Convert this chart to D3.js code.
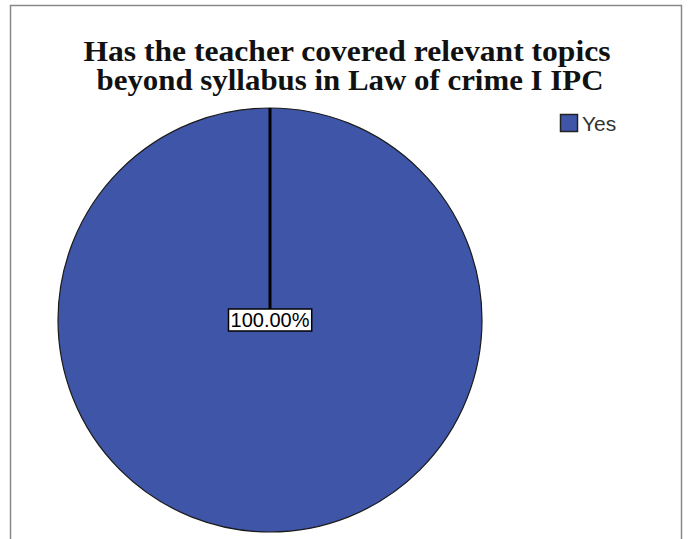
<!DOCTYPE html>
<html>
<head>
<meta charset="utf-8">
<script src="https://cdn.jsdelivr.net/npm/d3@7"></script>
<style>
  body { margin: 0; background: #fff; }
  svg { display: block; }
</style>
</head>
<body>
<div id="chart"></div>
<script>
// data
var categories = ["Yes"];
var values = [100];
var titleLines = ["Has the teacher covered relevant topics", "beyond syllabus in  Law of crime I IPC"];

var width = 690, height = 539;
var fillColor = "#3F56A8";

var svg = d3.select("#chart").append("svg")
  .attr("width", width)
  .attr("height", height);

// outer frame (bottom runs off the picture)
svg.append("path")
  .attr("d", "M10.5,545 V5.5 H681.5 V545")
  .attr("fill", "none")
  .attr("stroke", "#888")
  .attr("stroke-width", 1.5);

// title, stretched to the width of the original lines
var titlePos = [{cx: 347, y: 61, len: 527}, {cx: 350, y: 90, len: 507}];
svg.selectAll("text.title")
  .data(titleLines)
  .enter().append("text")
  .attr("class", "title")
  .attr("x", (d, i) => titlePos[i].cx - titlePos[i].len / 2)
  .attr("y", (d, i) => titlePos[i].y)
  .attr("textLength", (d, i) => titlePos[i].len)
  .attr("lengthAdjust", "spacingAndGlyphs")
  .style("font-family", "'Liberation Serif', 'DejaVu Serif', serif")
  .style("font-weight", "bold")
  .style("font-size", "29px")
  .attr("fill", "#111")
  .text(d => d);

var cx = 270, cy = 320, r = 212;
var pie = d3.pie().value(d => d.value).sort(null);
var arc = d3.arc().innerRadius(0).outerRadius(r);
var data = categories.map((c, i) => ({key: c, value: values[i]}));
var total = d3.sum(values);

var g = svg.append("g").attr("transform", "translate(" + cx + "," + cy + ")");

g.selectAll("path")
  .data(pie(data))
  .enter().append("path")
  .attr("d", arc)
  .attr("fill", fillColor)
  .attr("stroke", "#1a1a1a")
  .attr("stroke-width", 1.2);

// slice boundary line from centre to the start angle
pie(data).forEach(d => {
  var a = d.startAngle;
  g.append("line")
    .attr("x1", 0).attr("y1", 0)
    .attr("x2", r * Math.sin(a)).attr("y2", -r * Math.cos(a))
    .attr("stroke", "#000")
    .attr("stroke-width", 3);
});

// label at centre
var fmt = d3.format(".2f");
var label = g.append("g");
var lbl = label.append("text")
  .attr("x", 0).attr("y", 7)
  .attr("text-anchor", "middle")
  .style("font-family", "'Liberation Sans', Arial, sans-serif")
  .style("font-size", "20px")
  .attr("fill", "#000")
  .text(fmt(values[0] / total * 100) + "%");
var bb = lbl.node().getBBox();
label.insert("rect", "text")
  .attr("x", bb.x - 2).attr("y", bb.y)
  .attr("width", bb.width + 4).attr("height", bb.height)
  .attr("fill", "#fff")
  .attr("stroke", "#000")
  .attr("stroke-width", 1.5);

// legend
var legend = svg.selectAll("g.legend")
  .data(categories)
  .enter().append("g")
  .attr("class", "legend")
  .attr("transform", (d, i) => "translate(560," + (114 + i * 22) + ")");
legend.append("rect")
  .attr("x", 0.5).attr("y", 0.5)
  .attr("width", 17).attr("height", 17)
  .attr("fill", fillColor)
  .attr("stroke", "#222")
  .attr("stroke-width", 1.5);
legend.append("text")
  .attr("x", 22).attr("y", 16.5)
  .style("font-family", "'Liberation Sans', Arial, sans-serif")
  .style("font-size", "21px")
  .attr("fill", "#333")
  .text(d => d);
</script>
</body>
</html>
